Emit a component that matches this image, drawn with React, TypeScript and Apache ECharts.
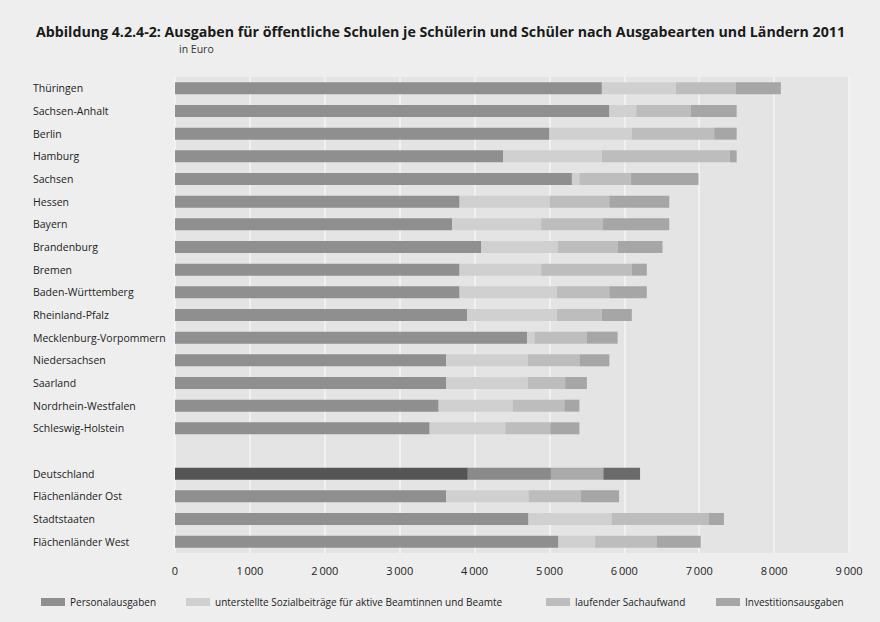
import React, { useEffect, useRef } from "react";
import * as echarts from "echarts";

const categories = [
  "Thüringen", "Sachsen-Anhalt", "Berlin", "Hamburg", "Sachsen", "Hessen", "Bayern",
  "Brandenburg", "Bremen", "Baden-Württemberg", "Rheinland-Pfalz", "Mecklenburg-Vorpommern",
  "Niedersachsen", "Saarland", "Nordrhein-Westfalen", "Schleswig-Holstein", "",
  "Deutschland", "Flächenländer Ost", "Stadtstaaten", "Flächenländer West",
];

const personal = [5700, 5800, 5000, 4380, 5300, 3800, 3700, 4090, 3800, 3800, 3900, 4700, 3620, 3620, 3520, 3400, null, 3910, 3620, 4720, 5120];
const sozial = [990, 360, 1100, 1320, 100, 1200, 1190, 1020, 1090, 1300, 1200, 100, 1090, 1090, 990, 1010, null, 1110, 1100, 1110, 490];
const sach = [800, 730, 1100, 1710, 690, 800, 820, 800, 1210, 700, 600, 700, 690, 500, 690, 600, null, 700, 700, 1300, 820];
const invest = [600, 610, 300, 90, 900, 800, 890, 600, 200, 500, 400, 410, 400, 290, 200, 390, null, 490, 510, 200, 590];

const seriesNames = [
  "Personalausgaben",
  "unterstellte Sozialbeiträge für aktive Beamtinnen und Beamte",
  "laufender Sachaufwand",
  "Investitionsausgaben",
];
const xTicks = [0, 1000, 2000, 3000, 4000, 5000, 6000, 7000, 8000, 9000];

const colors = ["#8f8f8f", "#d0d0d0", "#bdbdbd", "#a6a6a6"];
const highlightColors = ["#555555", "#8a8a8a", "#aaaaaa", "#6a6a6a"];
const highlightName = "Deutschland";
const legendLefts = [36, 181, 541, 711];

export default function App() {
  const ref = useRef<HTMLDivElement>(null);
  useEffect(() => {
    document.body.style.margin = "0";
    const chart = echarts.init(ref.current!, null, { renderer: "svg" });
    const font = "'Open Sans', 'Noto Sans', sans-serif";
    const all = [personal, sozial, sach, invest];
    chart.setOption({
      animation: false,
      backgroundColor: "#eeeeee",
      textStyle: { fontFamily: font },
      title: [
        {
          text: "Abbildung 4.2.4-2: Ausgaben für öffentliche Schulen je Schülerin und Schüler nach Ausgabearten und Ländern 2011",
          left: 31,
          top: 19,
          textStyle: { fontSize: 14.2, fontWeight: "bold", color: "#1a1a1a", fontFamily: font },
        },
        {
          text: "in Euro",
          left: 174,
          top: 38,
          textStyle: { fontSize: 10.5, fontWeight: "normal", color: "#333", fontFamily: font },
        },
      ],
      legend: seriesNames.map((n, i) => ({
        left: legendLefts[i],
        top: 592,
        itemWidth: 24,
        itemHeight: 8,
        icon: "rect",
        textStyle: { fontSize: 10, color: "#222", fontFamily: font },
        data: [n],
      })),
      grid: {
        left: 175,
        right: 31,
        top: 77,
        bottom: 622 - 553,
        show: true,
        backgroundColor: "#e4e4e4",
        borderWidth: 0,
      },
      xAxis: {
        type: "value",
        min: 0,
        max: 9000,
        interval: 1000,
        axisLine: { show: false },
        axisTick: { show: false },
        splitLine: { show: true, lineStyle: { color: "#f6f6f6", width: 1.5 } },
        axisLabel: {
          margin: 12,
          fontSize: 11,
          color: "#222",
          formatter: (v: number) => (xTicks.includes(v) ? (v >= 1000 ? `${Math.floor(v / 1000)}\u2009${String(v % 1000).padStart(3, "0")}` : `${v}`) : ""),
        },
      },
      yAxis: {
        type: "category",
        data: categories,
        inverse: true,
        axisLine: { show: false },
        axisTick: { show: false },
        splitLine: { show: false },
        axisLabel: {
          align: "left",
          margin: 142,
          fontSize: 10.5,
          color: "#222",
        },
      },
      series: all.map((arr, si) => ({
        name: seriesNames[si],
        type: "bar",
        stack: "total",
        barWidth: 12,
        itemStyle: { color: colors[si] },
        data: arr.map((v, i) =>
          categories[i] === highlightName
            ? { value: v, itemStyle: { color: highlightColors[si] } }
            : v === null
            ? "-"
            : v
        ),
      })),
    });
    return () => chart.dispose();
  }, []);
  return <div ref={ref} style={{ width: 880, height: 622 }} />;
}
